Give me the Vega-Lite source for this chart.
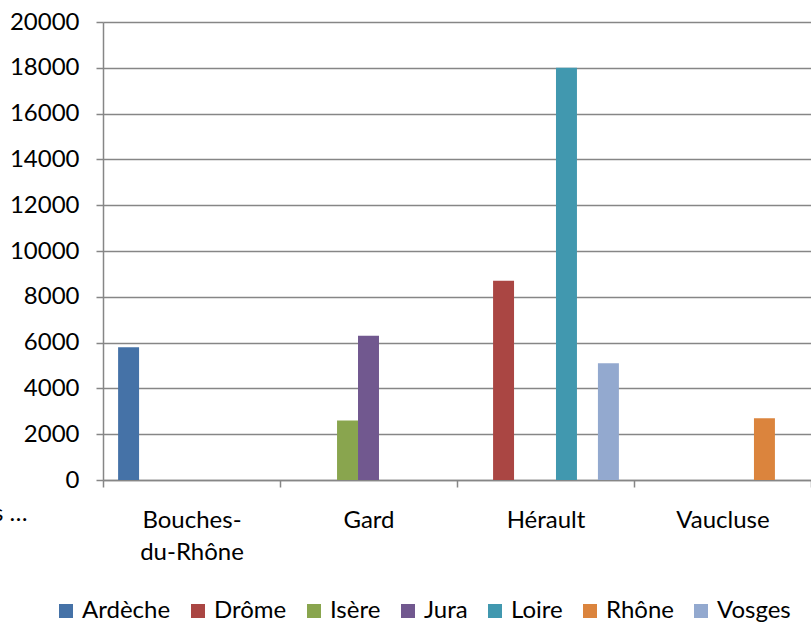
{
  "$schema": "https://vega.github.io/schema/vega-lite/v6.json",
  "width": 708,
  "height": 458,
  "autosize": {"type": "none"},
  "padding": {"left": 103, "top": 22, "right": 0, "bottom": 142},
  "background": "white",
  "config": {
    "view": {"stroke": null},
    "font": "Lato"
  },
  "data": {
    "values": [
      {"departement": "Bouches-du-Rhône", "serie": "Ardèche", "valeur": 5800},
      {"departement": "Gard", "serie": "Isère", "valeur": 2600},
      {"departement": "Gard", "serie": "Jura", "valeur": 6300},
      {"departement": "Hérault", "serie": "Drôme", "valeur": 8700},
      {"departement": "Hérault", "serie": "Loire", "valeur": 18000},
      {"departement": "Hérault", "serie": "Vosges", "valeur": 5100},
      {"departement": "Vaucluse", "serie": "Rhône", "valeur": 2700}
    ]
  },
  "mark": {"type": "bar"},
  "encoding": {
    "x": {
      "field": "departement",
      "type": "nominal",
      "sort": ["Bouches-du-Rhône", "Gard", "Hérault", "Vaucluse"],
      "scale": {"paddingInner": 0, "paddingOuter": 0},
      "axis": {
        "title": "s …",
        "titleFont": "Lato",
        "titleFontSize": 24,
        "titleFontWeight": "normal",
        "titleColor": "#000000",
        "titleX": -76,
        "titleY": 33,
        "titleAlign": "right",
        "titleBaseline": "middle",
        "titleAnchor": null,
        "labelAngle": 0,
        "labelFont": "Lato",
        "labelFontSize": 24,
        "labelColor": "#000000",
        "labelPadding": 21,
        "labelLineHeight": 32,
        "labelExpr": "datum.label == 'Bouches-du-Rhône' ? ['Bouches-', 'du-Rhône'] : datum.label",
        "tickBand": "extent",
        "tickSize": 7,
        "tickColor": "#868686",
        "tickWidth": 1.5,
        "domainColor": "#868686",
        "domainWidth": 1.5,
        "grid": false
      }
    },
    "xOffset": {
      "field": "serie",
      "type": "nominal",
      "scale": {"paddingInner": 0, "paddingOuter": 0.72}
    },
    "y": {
      "field": "valeur",
      "type": "quantitative",
      "scale": {"domain": [0, 20000], "nice": false},
      "axis": {
        "title": null,
        "values": [0, 2000, 4000, 6000, 8000, 10000, 12000, 14000, 16000, 18000, 20000],
        "format": "d",
        "labelFont": "Lato",
        "labelFontSize": 24,
        "labelColor": "#000000",
        "labelPadding": 17,
        "tickSize": 7,
        "tickColor": "#868686",
        "tickWidth": 1.5,
        "domainColor": "#868686",
        "domainWidth": 1.5,
        "gridColor": "#868686",
        "gridWidth": 1.5,
        "gridOpacity": 1,
        "grid": true
      }
    },
    "color": {
      "field": "serie",
      "type": "nominal",
      "scale": {
        "domain": ["Ardèche", "Drôme", "Isère", "Jura", "Loire", "Rhône", "Vosges"],
        "range": ["#4572A7", "#AA4643", "#89A54E", "#71588F", "#4198AF", "#DB843D", "#93A9CF"]
      },
      "legend": {
        "title": null,
        "orient": "none",
        "direction": "horizontal",
        "legendX": -49,
        "legendY": 577,
        "symbolType": "square",
        "symbolSize": 196,
        "symbolStrokeWidth": 0,
        "symbolOpacity": 1,
        "labelFont": "Lato",
        "labelFontSize": 24,
        "labelColor": "#000000",
        "labelOffset": 4,
        "columnPadding": 15,
        "padding": 0
      }
    }
  }
}
